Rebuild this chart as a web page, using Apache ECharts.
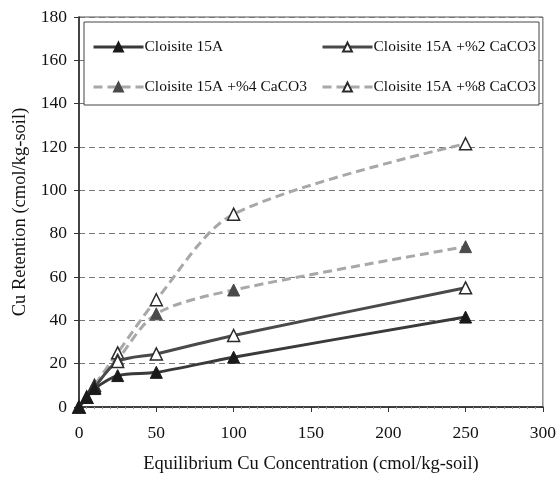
<!DOCTYPE html>
<html>
<head>
<meta charset="utf-8">
<script src="https://cdn.jsdelivr.net/npm/echarts@6/dist/echarts.min.js"></script>
<style>
html,body{margin:0;padding:0;background:#fff;}
#chart{width:559px;height:479px;}
</style>
</head>
<body>
<div id="chart"></div>
<script>
const xValues = [0, 5, 10, 25, 50, 100, 250];
const seriesNames = ['Cloisite 15A', 'Cloisite 15A +%2 CaCO3', 'Cloisite 15A +%4 CaCO3', 'Cloisite 15A +%8 CaCO3'];
const cloisite = [0, 4.5, 8.5, 14.5, 16, 23, 41.5];
const caco3_2 = [0, 4.5, 9, 21, 24.5, 33, 55];
const caco3_4 = [0, 4.5, 9.5, 22, 43, 54, 74];
const caco3_8 = [0, 4.5, 10, 25, 49.5, 89, 121.5];
const xTicks = [0, 50, 100, 150, 200, 250, 300];
const yTicks = [0, 20, 40, 60, 80, 100, 120, 140, 160, 180];

const FONT = '"Liberation Serif", "Times New Roman", serif';
function pairs(v){ return xValues.map((x,i)=>[x, v[i]]); }

const styles = [
  {line:{color:'#3a3a3a', width:3, type:'solid'}, symbol:'triangle', item:{color:'#1a1a1a', borderColor:'#1a1a1a', borderWidth:1}},
  {line:{color:'#4a4a4a', width:3, type:'solid'}, symbol:'triangle', item:{color:'#ffffff', borderColor:'#2a2a2a', borderWidth:1.5}},
  {line:{color:'#a8a8a8', width:3, type:[9,5]}, symbol:'triangle', item:{color:'#4a4a4a', borderColor:'#4a4a4a', borderWidth:1}},
  {line:{color:'#a8a8a8', width:3, type:[9,5]}, symbol:'triangle', item:{color:'#ffffff', borderColor:'#2a2a2a', borderWidth:1.5}}
];
const dataSets = [cloisite, caco3_2, caco3_4, caco3_8];

const series = dataSets.map((d,i)=>({
  name: seriesNames[i],
  type:'line',
  data: pairs(d),
  smooth: 0.3,
  symbol: styles[i].symbol,
  symbolSize: 12,
  lineStyle: styles[i].line,
  itemStyle: styles[i].item,
  z: 10 - i
}));

const legendPos = [
  {left: 87, top: 34},
  {left: 316, top: 34},
  {left: 87, top: 74},
  {left: 316, top: 74}
];
const legends = seriesNames.map((n,i)=>({
  data:[n],
  left: legendPos[i].left,
  top: legendPos[i].top,
  itemWidth: 50,
  itemHeight: 11,
  itemGap: 0,
  z: 20,
  lineStyle:{width:3},
  textStyle:{fontFamily:FONT, fontSize:15.5, color:'#111', padding:[0,0,0,-4]},
  selectedMode:false
}));

const chart = echarts.init(document.getElementById('chart'));
chart.setOption({
  animation:false,
  backgroundColor:'#fff',
  grid:{left:79, right:15, top:17, bottom:68, show:true, borderColor:'#555', borderWidth:1},
  legend: legends,
  graphic:[{
    type:'rect', shape:{x:84, y:22, width:455, height:83},
    style:{fill:'#fff', stroke:'#444', lineWidth:1}, z:1
  }],
  xAxis:{
    type:'value', min:0, max:300, interval:50,
    name:'Equilibrium Cu Concentration (cmol/kg-soil)',
    nameLocation:'middle', nameGap:48,
    nameTextStyle:{fontFamily:FONT, fontSize:18.5, color:'#111'},
    axisLine:{lineStyle:{color:'#222', width:1.5}},
    axisTick:{show:true, length:5, lineStyle:{color:'#333'}},
    minorTick:{show:true, splitNumber:10, length:2, lineStyle:{color:'#999'}},
    axisLabel:{fontFamily:FONT, fontSize:17.5, color:'#111', margin:17,
      formatter:v=> xTicks.includes(v) ? String(v) : ''},
    splitLine:{show:false}
  },
  yAxis:{
    type:'value', min:0, max:180, interval:20,
    name:'Cu Retention (cmol/kg-soil)',
    nameLocation:'middle', nameGap:42,
    nameTextStyle:{fontFamily:FONT, fontSize:18.5, color:'#111'},
    axisLine:{lineStyle:{color:'#222', width:1.5}},
    axisTick:{show:true, length:5, lineStyle:{color:'#333'}},
    axisLabel:{fontFamily:FONT, fontSize:17.5, color:'#111', margin:12,
      formatter:v=> yTicks.includes(v) ? String(v) : ''},
    splitLine:{show:true, lineStyle:{color:'#777', type:[6,4], width:1}}
  },
  series: series
});
</script>
</body>
</html>
